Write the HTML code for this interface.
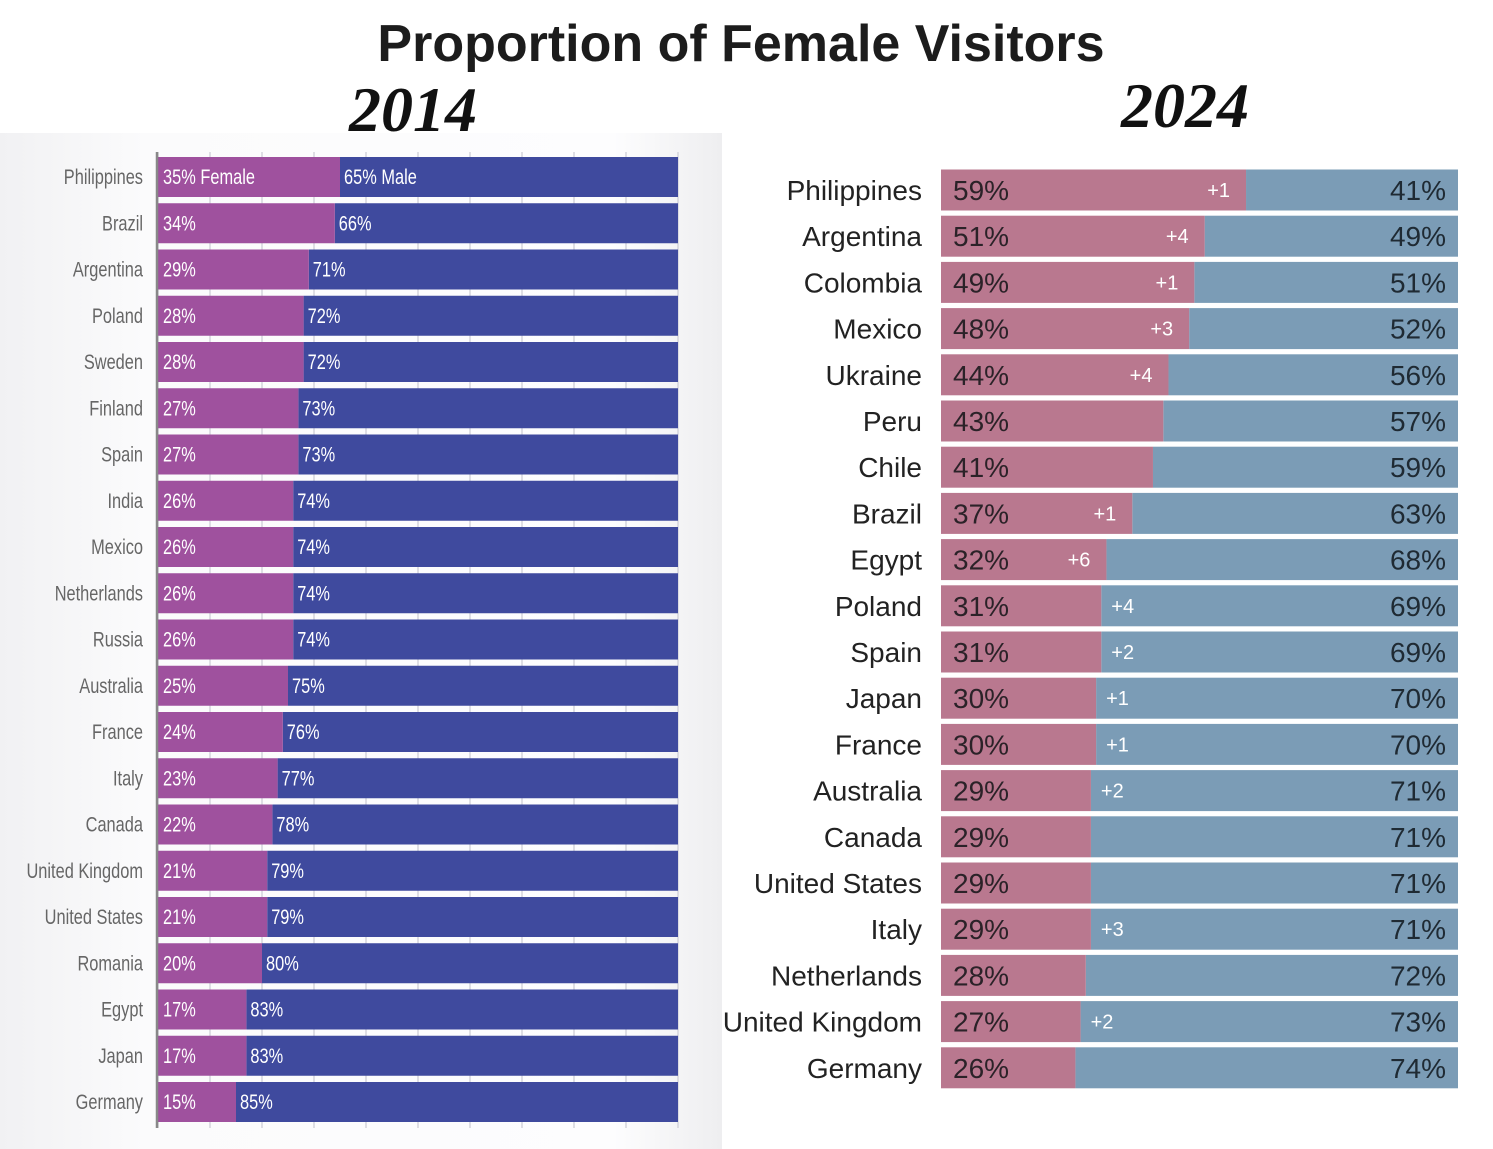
<!DOCTYPE html>
<html><head><meta charset="utf-8"><style>
body{margin:0;width:1493px;height:1149px;overflow:hidden;background:#fff;}
svg{display:block}
</style></head><body>
<svg id="c" width="1493" height="1149" xmlns="http://www.w3.org/2000/svg">
<defs>
<linearGradient id="lg" x1="0" x2="1" y1="0" y2="0">
<stop offset="0" stop-color="#f1f1f3"/><stop offset="0.2" stop-color="#fbfbfc"/><stop offset="0.85" stop-color="#fdfdfe"/><stop offset="1" stop-color="#eeeef0"/>
</linearGradient>
</defs>
<rect x="0" y="133" width="722" height="1016" fill="url(#lg)"/>
<text x="741" y="61" text-anchor="middle" font-family="Liberation Sans, sans-serif" font-weight="bold" font-size="52" fill="#1c1c1c">Proportion of Female Visitors</text>
<text x="413" y="131" text-anchor="middle" font-family="Liberation Serif, serif" font-style="italic" font-weight="bold" font-size="64" fill="#111">2014</text>
<text x="1185" y="127" text-anchor="middle" font-family="Liberation Serif, serif" font-style="italic" font-weight="bold" font-size="64" fill="#111">2024</text>
<g id="left"></g>
<g id="right"></g>
</svg>
<script>
const leftCountries=["Philippines","Brazil","Argentina","Poland","Sweden","Finland","Spain","India","Mexico","Netherlands","Russia","Australia","France","Italy","Canada","United Kingdom","United States","Romania","Egypt","Japan","Germany"];
const leftFemale=[35,34,29,28,28,27,27,26,26,26,26,25,24,23,22,21,21,20,17,17,15];
const rightCountries=["Philippines","Argentina","Colombia","Mexico","Ukraine","Peru","Chile","Brazil","Egypt","Poland","Spain","Japan","France","Australia","Canada","United States","Italy","Netherlands","United Kingdom","Germany"];
const rightFemale=[59,51,49,48,44,43,41,37,32,31,31,30,30,29,29,29,29,28,27,26];
const rightDelta=["+1","+4","+1","+3","+4","","","+1","+6","+4","+2","+1","+1","+2","","","+3","","+2",""];
const gridTicks=[0,10,20,30,40,50,60,70,80,90,100];

const NS="http://www.w3.org/2000/svg";
function mk(tag,attrs,parent,txt){const e=document.createElementNS(NS,tag);for(const k in attrs)e.setAttribute(k,attrs[k]);if(txt!==undefined)e.textContent=txt;parent.appendChild(e);return e;}

const L=document.getElementById('left');
const lx0=158,lw=520,ly0=177,lstep=46.25,lbh=40;
const lxs=v=>lx0+v/100*lw;
const lys=i=>ly0+i*lstep;
gridTicks.forEach(t=>{
  const g=mk('line',{x1:lxs(t),x2:lxs(t),y1:152,y2:1128,stroke:'#d4d4dc','stroke-width':1.5},L);
  
  
});
const LF='"Liberation Sans",sans-serif';
const SX=0.78;
leftCountries.forEach((c,i)=>{
  const f=leftFemale[i],y=lys(i);
  const t=mk('text',{x:0,y:0,transform:`translate(143,${y+7}) scale(${SX},1)`,'text-anchor':'end','font-family':LF,'font-size':21,fill:'#666'},L,c);
  
  
  const m=mk('rect',{x:lxs(f),y:y-lbh/2,width:lxs(100)-lxs(f),height:lbh,fill:'#3f4a9e'},L);
  
  
  const fb=mk('rect',{x:lx0,y:y-lbh/2,width:lxs(f)-lx0,height:lbh,fill:'#9f519e'},L);
  
  
  const ft=mk('text',{x:0,y:0,transform:`translate(${lx0+5},${y+7}) scale(${SX},1)`,'font-family':LF,'font-size':21,fill:'#fff'},L,f+'%'+(i===0?' Female':''));
  
  
  const mt=mk('text',{x:0,y:0,transform:`translate(${lxs(f)+4},${y+7}) scale(${SX},1)`,'font-family':LF,'font-size':21,fill:'#fff'},L,(100-f)+'%'+(i===0?' Male':''));
  
  
});
const ax=mk('line',{x1:157,x2:157,y1:152,y2:1128,stroke:'#888','stroke-width':2.5},L);



const R=document.getElementById('right');
const rx0=941,rw=517,ry0=190,rstep=46.2,rbh=41;
const rxs=v=>rx0+v/100*rw;
const rys=i=>ry0+i*rstep;
const RF='"Liberation Sans",sans-serif';
rightCountries.forEach((c,i)=>{
  const f=rightFemale[i],y=rys(i);
  const t=mk('text',{x:922,y:y+10,'text-anchor':'end','font-family':RF,'font-size':28,fill:'#222'},R,c);
  
  
  const m=mk('rect',{x:rxs(f),y:y-rbh/2,width:rxs(100)-rxs(f),height:rbh,fill:'#7b9cb6'},R);
  
  
  const fb=mk('rect',{x:rx0,y:y-rbh/2,width:rxs(f)-rx0,height:rbh,fill:'#b9788f'},R);
  
  
  const ft=mk('text',{x:rx0+12,y:y+10,'font-family':RF,'font-size':28,fill:'#2b2228'},R,f+'%');
  
  
  const mt=mk('text',{x:1446,y:y+10,'text-anchor':'end','font-family':RF,'font-size':28,fill:'#1f2a33'},R,(100-f)+'%');
  
  
  const d=rightDelta[i];
  if(d){
    const inside=f>=32;
    const dt=mk('text',{x:inside?rxs(f)-16:rxs(f)+10,y:y+7,'text-anchor':inside?'end':'start','font-family':RF,'font-size':20,fill:'#fff'},R,d);
    
    
  }
});
</script>
</body></html>
